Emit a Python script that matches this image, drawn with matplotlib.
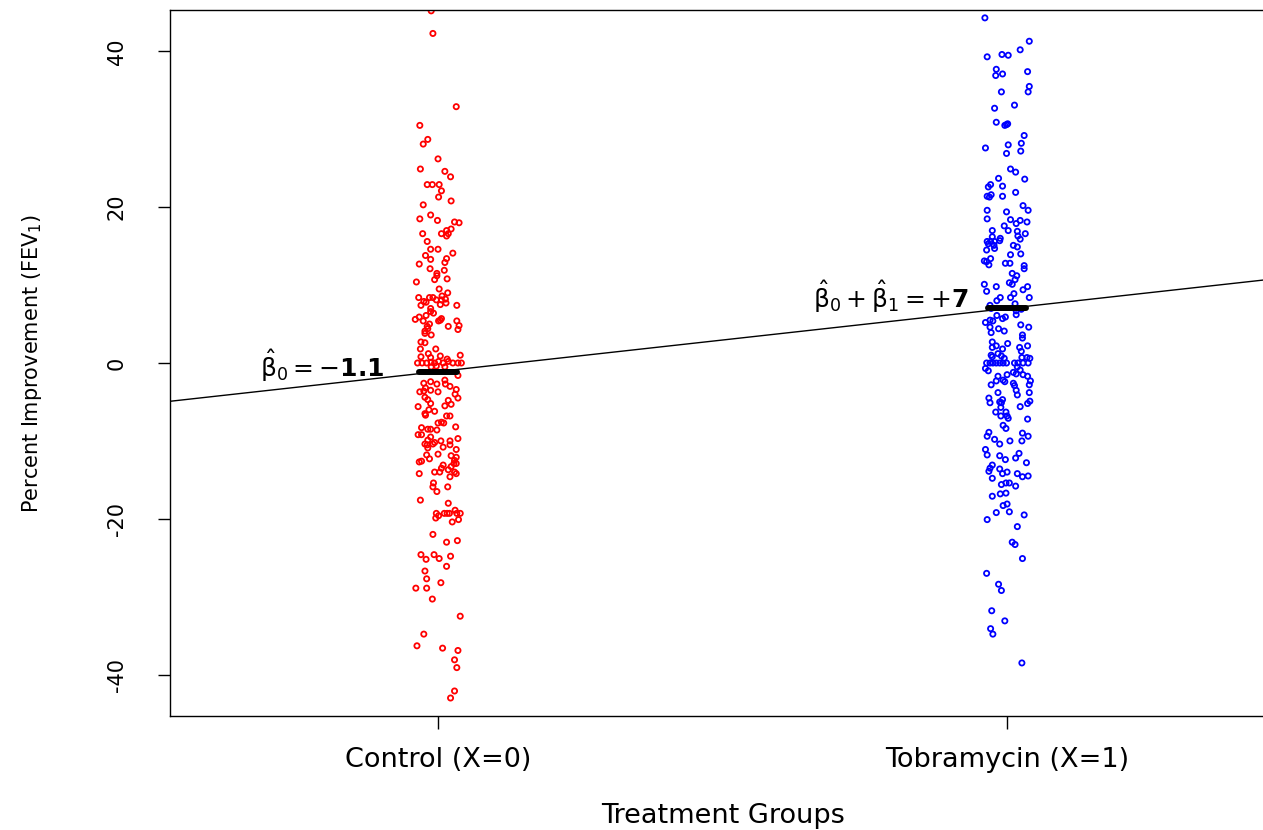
import numpy as np
import matplotlib
matplotlib.use("Agg")
import matplotlib.pyplot as plt

# group labels and fitted coefficients from the regression
group_labels = ["Control (X=0)", "Tobramycin (X=1)"]
beta0 = -1.1
beta1 = 8.1   # beta0 + beta1 = +7

# (horizontal jitter, percent improvement in FEV1) for each patient
control_pts = [
    (-0.012, 45.2), (-0.009, 42.3), (0.032, 32.9),
    (-0.032, 30.5), (-0.018, 28.7), (-0.026, 28.1), (0.000, 26.2), (-0.031, 24.9),
    (0.012, 24.6), (0.022, 23.9), (-0.019, 22.9), (-0.010, 22.9), (0.002, 22.9),
    (0.006, 22.1), (0.001, 21.3), (0.023, 20.8), (-0.026, 20.3), (-0.013, 19.0),
    (-0.032, 18.5), (-0.001, 18.3), (0.029, 18.1), (0.037, 18.0), (-0.027, 16.6),
    (0.006, 16.6), (0.015, 17.0), (0.023, 17.2), (0.018, 16.6), (0.015, 16.3),
    (-0.019, 15.6), (-0.013, 14.6), (0.000, 14.6), (0.026, 14.1), (-0.022, 13.8),
    (-0.013, 13.3), (0.015, 13.4), (0.012, 12.9), (-0.033, 12.7), (-0.014, 12.1),
    (0.011, 11.9), (-0.002, 11.5), (-0.002, 11.2), (-0.006, 10.7), (0.016, 10.8),
    (-0.038, 10.4), (0.002, 9.5), (0.017, 9.0), (0.007, 8.6), (-0.034, 8.4),
    (-0.015, 8.4), (-0.009, 8.4), (-0.025, 7.9), (-0.021, 7.8), (-0.003, 8.1),
    (0.006, 8.1), (0.013, 8.2), (0.004, 7.5), (0.014, 7.7), (-0.030, 7.4),
    (0.033, 7.4), (-0.013, 7.0), (-0.013, 6.6), (-0.008, 6.4), (-0.021, 6.1),
    (-0.033, 5.9), (0.006, 5.7), (-0.040, 5.6), (-0.026, 5.4), (0.001, 5.4),
    (0.004, 5.5), (0.033, 5.4), (-0.015, 5.0), (-0.019, 4.7), (0.018, 4.7),
    (0.037, 4.8), (-0.018, 4.4), (0.035, 4.3), (-0.023, 4.1), (-0.023, 3.8),
    (-0.012, 3.6), (-0.030, 2.7), (-0.023, 2.6), (-0.031, 1.8), (-0.004, 1.8),
    (-0.017, 1.2), (0.039, 1.0), (0.004, 0.9), (-0.030, 0.8), (-0.013, 0.7),
    (0.016, 0.5),
    (-0.036, 0.0), (-0.028, 0.0), (-0.020, 0.0), (-0.012, 0.1), (-0.006, 0.0),
    (0.001, 0.2), (0.009, 0.0), (0.018, 0.2), (0.026, 0.0), (0.035, 0.0),
    (0.041, 0.0), (-0.003, -0.4), (0.012, -0.5), (-0.012, -0.5),
    (0.035, -1.6), (-0.025, -2.6), (-0.013, -2.4), (-0.002, -2.7), (0.012, -2.2),
    (0.013, -2.7), (0.021, -3.0), (-0.022, -3.2), (0.032, -3.4), (-0.032, -3.7),
    (-0.025, -3.6), (-0.013, -3.5), (0.000, -3.7), (0.030, -4.0), (-0.023, -4.4),
    (0.035, -4.5), (-0.018, -4.7), (0.018, -4.8), (-0.013, -5.2), (0.023, -5.3),
    (0.012, -5.5), (-0.035, -5.6), (-0.016, -6.0), (-0.006, -6.2), (-0.023, -6.5),
    (-0.022, -6.7), (0.015, -6.8), (0.021, -6.8), (0.006, -7.6), (0.010, -7.7),
    (0.000, -7.7), (0.031, -8.2), (-0.029, -8.3), (-0.018, -8.5), (-0.013, -8.5),
    (-0.002, -8.6), (-0.035, -9.2), (-0.029, -9.2), (-0.013, -9.5), (-0.018, -9.9),
    (0.005, -10.0), (-0.006, -10.2), (0.021, -10.0), (0.035, -9.7), (-0.023, -10.4),
    (-0.019, -10.5), (-0.009, -10.4), (0.021, -10.5), (0.009, -10.8), (-0.018, -10.9),
    (0.032, -11.1), (0.000, -11.7), (0.023, -11.9), (-0.020, -11.8), (0.032, -12.1),
    (-0.015, -12.3), (0.029, -12.5), (-0.033, -12.7), (-0.029, -12.6), (0.032, -12.9),
    (0.028, -12.9), (0.023, -13.3), (0.009, -13.1), (0.006, -13.5), (-0.006, -14.0),
    (0.003, -14.0), (0.018, -13.7), (0.029, -14.0), (-0.033, -14.2), (0.032, -14.2),
    (0.021, -14.6),
    (-0.008, -15.4), (-0.009, -15.9), (0.017, -15.9), (-0.002, -16.5), (-0.031, -17.6),
    (0.018, -18.0), (0.030, -18.9), (-0.003, -19.3), (0.011, -19.3), (0.020, -19.3),
    (0.016, -19.3), (0.033, -19.3), (0.039, -19.3), (0.001, -19.6), (-0.004, -19.9),
    (0.036, -20.1), (0.025, -20.4), (-0.009, -22.0), (0.034, -22.8), (0.015, -23.0),
    (-0.030, -24.6), (-0.007, -24.6), (0.002, -25.1), (-0.021, -25.2), (0.022, -24.8),
    (0.015, -26.1), (-0.023, -26.7), (-0.020, -27.7), (0.005, -28.2), (-0.039, -28.9),
    (-0.020, -28.9), (-0.010, -30.3),
    (0.039, -32.5), (-0.025, -34.8), (-0.037, -36.3), (0.008, -36.6), (0.035, -36.9),
    (0.029, -38.1), (0.033, -39.1), (0.029, -42.1), (0.022, -43.0),
]

tobramycin_pts = [
    (-0.039, 44.3), (0.039, 41.3), (0.023, 40.2), (-0.035, 39.3), (-0.009, 39.6),
    (0.002, 39.5), (-0.019, 37.7), (0.036, 37.4), (-0.020, 36.9), (-0.008, 37.1),
    (0.039, 35.5), (0.037, 34.8), (-0.010, 34.8), (0.013, 33.1), (-0.022, 32.7),
    (-0.019, 30.9), (0.001, 30.7), (-0.004, 30.5), (-0.001, 30.6), (0.030, 29.2),
    (-0.038, 27.6), (0.002, 28.0), (0.025, 28.2), (-0.001, 26.9), (0.024, 27.2),
    (0.006, 24.9), (0.015, 24.5), (-0.015, 23.7), (0.031, 23.6), (-0.029, 22.9),
    (-0.033, 22.6), (-0.008, 22.7), (0.015, 21.9), (-0.028, 21.6), (-0.035, 21.4),
    (-0.031, 21.3), (-0.008, 21.4), (0.028, 20.2), (-0.035, 19.6), (-0.001, 19.4),
    (0.037, 19.6), (-0.035, 18.5), (0.006, 18.4), (0.016, 17.9), (0.023, 18.3),
    (0.035, 18.1), (-0.005, 17.6), (-0.026, 17.0), (0.002, 17.0), (0.018, 16.9),
    (0.032, 16.6), (0.019, 16.3), (-0.026, 16.2), (-0.012, 16.0), (0.023, 15.9),
    (-0.035, 15.6), (-0.029, 15.6), (-0.022, 15.6), (-0.013, 15.7), (-0.033, 15.3),
    (-0.023, 15.1), (0.011, 15.1), (0.018, 14.9), (-0.036, 14.5), (-0.022, 14.7),
    (0.024, 14.0), (0.006, 13.9), (-0.029, 13.4), (-0.040, 13.1), (-0.036, 13.0),
    (-0.032, 12.6), (-0.003, 12.8), (0.005, 12.8), (0.030, 12.5), (0.030, 12.1),
    (0.009, 11.5), (0.017, 11.2), (0.014, 10.7), (0.004, 10.3), (0.009, 10.1),
    (-0.040, 10.1), (-0.019, 9.8), (0.036, 9.8), (-0.036, 9.2), (0.028, 9.4),
    (0.012, 8.9), (-0.012, 8.4), (-0.018, 8.0), (0.006, 8.4), (0.039, 8.4),
    (0.014, 7.6), (-0.030, 7.4), (-0.028, 7.0), (0.025, 6.9), (0.016, 6.7),
    (-0.018, 6.1), (-0.003, 5.9), (0.016, 6.2), (-0.030, 5.5), (-0.025, 5.4),
    (-0.038, 5.2), (-0.008, 5.7), (-0.030, 4.6), (-0.015, 4.4), (-0.005, 4.1),
    (0.024, 4.9), (0.038, 4.6), (-0.028, 3.9), (0.027, 3.6), (0.027, 3.2),
    (-0.026, 2.7), (0.001, 2.5), (-0.019, 2.2), (-0.026, 2.0), (0.036, 2.2),
    (0.022, 2.0), (-0.008, 1.8), (0.025, 1.5), (-0.016, 1.2), (-0.028, 1.0),
    (-0.026, 0.8), (-0.010, 0.9), (0.026, 0.7), (0.035, 0.7), (0.040, 0.6),
    (-0.005, 0.6),
    (-0.036, 0.0), (-0.030, 0.0), (-0.025, 0.0), (-0.019, 0.0), (-0.013, 0.0),
    (-0.007, 0.0), (-0.001, 0.0), (0.013, 0.0), (0.019, 0.0), (0.028, 0.0),
    (0.037, 0.0),
    (0.018, -0.5), (-0.038, -0.7), (-0.033, -1.0), (0.023, -0.9), (0.011, -1.2),
    (0.016, -1.4), (0.028, -1.5), (0.036, -1.7), (-0.016, -1.7), (0.000, -1.5),
    (-0.007, -2.2), (-0.019, -2.3), (-0.004, -2.4), (0.041, -2.3), (-0.028, -2.8),
    (0.011, -2.6), (0.013, -2.9), (0.039, -2.8), (0.016, -3.5), (-0.016, -3.8),
    (0.039, -3.8), (0.018, -4.1), (-0.032, -4.5), (-0.008, -4.7), (0.040, -4.9),
    (-0.030, -5.1), (-0.013, -5.0), (-0.010, -5.1), (0.036, -5.2), (0.023, -5.6),
    (-0.011, -5.7), (-0.020, -6.3), (-0.002, -6.3), (-0.011, -6.8), (0.000, -6.8),
    (0.002, -7.1), (0.036, -7.2), (-0.007, -8.0), (-0.002, -8.4), (-0.032, -8.9),
    (0.027, -9.0), (-0.035, -9.4), (0.037, -9.4), (-0.022, -9.8), (0.005, -10.0),
    (0.026, -10.0), (-0.013, -10.4), (-0.038, -11.1), (-0.035, -11.8), (0.021, -11.6),
    (-0.013, -11.9), (0.015, -12.2), (-0.003, -12.4), (0.034, -12.8), (-0.026, -13.1),
    (-0.030, -13.5), (-0.032, -13.9), (-0.013, -13.6), (-0.008, -14.2), (0.000, -14.0),
    (0.018, -14.2), (-0.026, -14.8), (0.027, -14.6), (0.037, -14.5),
    (-0.010, -15.6), (-0.002, -15.4), (0.004, -15.4), (0.015, -15.8), (-0.026, -17.1),
    (-0.012, -16.8), (-0.002, -16.7), (-0.007, -18.3), (0.000, -18.1), (-0.019, -19.2),
    (0.004, -19.1), (0.030, -19.5), (-0.035, -20.1), (0.018, -21.0), (0.009, -23.0),
    (0.014, -23.3), (0.027, -25.1), (-0.036, -27.0), (-0.015, -28.4), (-0.010, -29.2),
    (-0.027, -31.8), (-0.004, -33.1), (-0.029, -34.1), (-0.025, -34.8), (0.026, -38.5),
]

ctrl_jit, ctrl_val = np.array(control_pts).T
tob_jit, tob_val = np.array(tobramycin_pts).T

fig = plt.figure(figsize=(12.63, 8.30), dpi=100)
# plot region runs past the right edge of the figure, like a cropped R plot
ax = fig.add_axes([170 / 1263, 114 / 830, 1100 / 1263, 706 / 830])
ax.set_xlim(-0.471, 1.462)
ax.set_ylim(-45.31, 45.31)

# fitted regression line (abline)
ax.axline((0, beta0), slope=beta1, color="black", lw=1.0, zorder=1)

ax.scatter(0 + ctrl_jit, ctrl_val, s=14, facecolors="none",
           edgecolors="red", linewidths=1.3, zorder=2)
ax.scatter(1 + tob_jit, tob_val, s=14, facecolors="none",
           edgecolors="blue", linewidths=1.3, zorder=2)

# group means
for g, m in [(0, beta0), (1, beta0 + beta1)]:
    ax.plot([g - 0.033, g + 0.033], [m, m], color="black", lw=4.3,
            solid_capstyle="round", zorder=3)

ax.text(-0.204, -0.3, r"$\hat{\mathrm{\beta}}_0 = -\mathbf{1.1}$", fontsize=18,
        ha="center", va="center")
ax.text(0.795, 8.5, r"$\hat{\mathrm{\beta}}_0 + \hat{\mathrm{\beta}}_1 = +\mathbf{7}$",
        fontsize=18, ha="center", va="center")

ax.set_xticks([0, 1])
ax.set_xticklabels(group_labels, fontsize=19.5)
ax.set_yticks([-40, -20, 0, 20, 40])
ax.set_yticklabels(["-40", "-20", "0", "20", "40"], fontsize=15,
                   rotation=90, va="center")
ax.tick_params(axis="both", length=9, width=1.0, direction="out")
ax.tick_params(axis="y", pad=22)
ax.tick_params(axis="x", pad=13)

for sp in ax.spines.values():
    sp.set_linewidth(1.0)

ax.set_xlabel("Treatment Groups", fontsize=19.5)
ax.xaxis.set_label_coords(553 / 1100, -100 / 706)
ax.xaxis.label.set_va("center")
ax.set_ylabel(r"Percent Improvement (FEV$_1$)", fontsize=15)
ax.yaxis.set_label_coords(-138 / 1100, 0.5)
ax.yaxis.label.set_va("center")

fig.savefig("out.png", dpi=100)
